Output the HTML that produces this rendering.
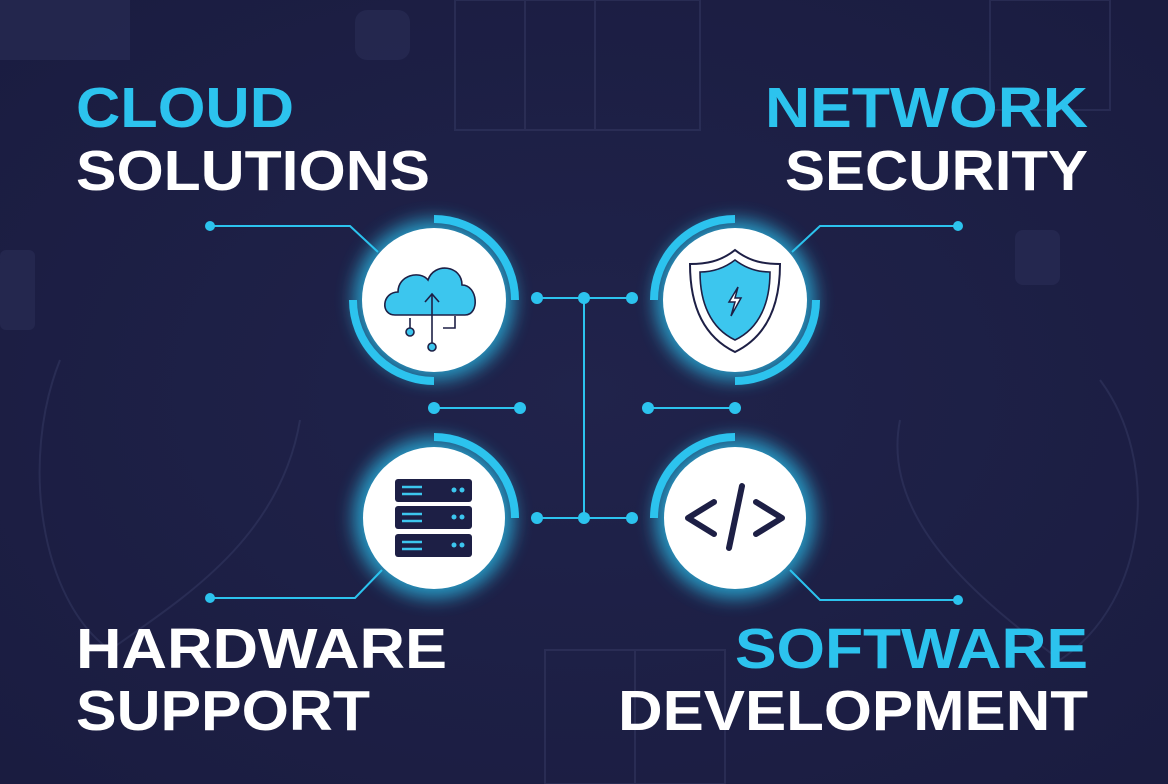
<!DOCTYPE html>
<html><head><meta charset="utf-8"><style>
html,body{margin:0;padding:0;background:#1d1f45;}
svg{display:block}
text{font-family:"Liberation Sans",sans-serif;font-weight:bold}
</style></head><body>
<svg width="1168" height="784" viewBox="0 0 1168 784" xmlns="http://www.w3.org/2000/svg">
<defs>
<radialGradient id="bg" cx="50%" cy="50%" r="70%"><stop offset="0" stop-color="#20234b"/><stop offset="1" stop-color="#1a1c40"/></radialGradient>
<filter id="glow" x="-50%" y="-50%" width="200%" height="200%"><feGaussianBlur stdDeviation="9"/></filter>
</defs>
<rect width="1168" height="784" fill="url(#bg)"/>
<g stroke="#3a3e68" stroke-width="2" fill="none" opacity="0.45">
<rect x="455" y="0" width="140" height="130"/><line x1="525" y1="0" x2="525" y2="130"/>
<path d="M590 0 L700 0 L700 130 L590 130"/>
<rect x="990" y="0" width="120" height="110"/>
<rect x="545" y="650" width="180" height="134"/><line x1="635" y1="650" x2="635" y2="784"/>
<path d="M60 360 C20 460 40 600 110 650 C180 600 280 540 300 420"/>
<path d="M1100 380 C1160 460 1150 600 1060 660 C980 600 880 520 900 420"/>
</g>
<g fill="#2b2f5a" opacity="0.5">
<rect x="0" y="0" width="130" height="60"/><rect x="1015" y="230" width="45" height="55" rx="8"/><rect x="0" y="250" width="35" height="80" rx="6"/><rect x="355" y="10" width="55" height="50" rx="12"/>
</g>
<text x="76" y="127" font-size="57" fill="#2cc3ee" textLength="218" lengthAdjust="spacingAndGlyphs">CLOUD</text>
<text x="76" y="190" font-size="57" fill="#ffffff" textLength="354" lengthAdjust="spacingAndGlyphs">SOLUTIONS</text>
<text x="765" y="127" font-size="57" fill="#2cc3ee" textLength="323" lengthAdjust="spacingAndGlyphs">NETWORK</text>
<text x="785" y="190" font-size="57" fill="#ffffff" textLength="303" lengthAdjust="spacingAndGlyphs">SECURITY</text>
<text x="76" y="668" font-size="57" fill="#ffffff" textLength="371" lengthAdjust="spacingAndGlyphs">HARDWARE</text>
<text x="76" y="730" font-size="57" fill="#ffffff" textLength="294" lengthAdjust="spacingAndGlyphs">SUPPORT</text>
<text x="735" y="668" font-size="57" fill="#2cc3ee" textLength="353" lengthAdjust="spacingAndGlyphs">SOFTWARE</text>
<text x="618" y="730" font-size="57" fill="#ffffff" textLength="470" lengthAdjust="spacingAndGlyphs">DEVELOPMENT</text>
<g stroke="#2cc3ee" stroke-width="2" fill="none">
<polyline points="210,226 350,226 378,252"/>
<polyline points="958,226 820,226 792,252"/>
<polyline points="210,598 355,598 382,570"/>
<polyline points="958,600 820,600 790,570"/>
<line x1="537" y1="298" x2="632" y2="298"/>
<line x1="537" y1="518" x2="632" y2="518"/>
<line x1="584" y1="298" x2="584" y2="518"/>
<line x1="434" y1="408" x2="520" y2="408"/>
<line x1="648" y1="408" x2="735" y2="408"/>
</g>
<g fill="#2cc3ee">
<circle cx="210" cy="226" r="5"/><circle cx="958" cy="226" r="5"/><circle cx="210" cy="598" r="5"/><circle cx="958" cy="600" r="5"/>
<circle cx="537" cy="298" r="6"/><circle cx="584" cy="298" r="6"/><circle cx="632" cy="298" r="6"/>
<circle cx="537" cy="518" r="6"/><circle cx="584" cy="518" r="6"/><circle cx="632" cy="518" r="6"/>
<circle cx="434" cy="408" r="6"/><circle cx="520" cy="408" r="6"/><circle cx="648" cy="408" r="6"/><circle cx="735" cy="408" r="6"/>
</g>
<g fill="#2cc3ee" filter="url(#glow)" opacity="0.75">
<circle cx="434" cy="300" r="80"/><circle cx="735" cy="300" r="80"/><circle cx="434" cy="518" r="80"/><circle cx="735" cy="518" r="80"/>
</g>
<g stroke="#2cc3ee" stroke-width="8" fill="none">
<path d="M434 219 A81 81 0 0 1 515 300"/><path d="M353 300 A81 81 0 0 0 434 381"/>
<path d="M735 219 A81 81 0 0 0 654 300"/><path d="M816 300 A81 81 0 0 1 735 381"/>
<path d="M434 437 A81 81 0 0 1 515 518"/>
<path d="M735 437 A81 81 0 0 0 654 518"/>
</g>
<g fill="#ffffff">
<circle cx="434" cy="300" r="72"/><circle cx="735" cy="300" r="72"/><circle cx="434" cy="518" r="71"/><circle cx="735" cy="518" r="71"/>
</g>
<g stroke="#1d1f45" stroke-width="1.6" fill="#3cc6ee">
<path d="M395 315 C380 315 382 292 398 292 C398 275 420 270 428 280 C434 262 462 265 462 285 C478 285 480 315 465 315 Z"/>
</g>
<g stroke="#1d1f45" stroke-width="1.6" fill="none">
<line x1="432" y1="345" x2="432" y2="295"/><polyline points="425,302 432,294 439,302"/>
<line x1="410" y1="318" x2="410" y2="328"/><circle cx="410" cy="332" r="4" fill="#3cc6ee"/>
<circle cx="432" cy="347" r="4" fill="#3cc6ee"/>
<polyline points="455,316 455,328 443,328"/>
</g>
<path d="M735 250 C750 262 765 264 780 264 C780 300 770 335 735 352 C700 335 690 300 690 264 C705 264 720 262 735 250Z" fill="#fff" stroke="#1d1f45" stroke-width="2"/>
<path d="M735 260 C748 270 760 272 770 272 C770 302 760 328 735 340 C710 328 700 302 700 272 C710 272 722 270 735 260Z" fill="#3cc6ee" stroke="#1d1f45" stroke-width="1.6"/>
<path d="M738 287 L729 302 L735 302 L731 316 L741 298 L735 298 Z" fill="#fff" stroke="#1d1f45" stroke-width="1.5"/>
<g fill="#1d1f45">
<rect x="395" y="479" width="77" height="23" rx="3"/><rect x="395" y="506" width="77" height="23" rx="3"/><rect x="395" y="534" width="77" height="23" rx="3"/>
</g>
<g stroke="#3cc6ee" stroke-width="2.5">
<line x1="402" y1="487" x2="422" y2="487"/><line x1="402" y1="494" x2="422" y2="494"/>
<line x1="402" y1="514" x2="422" y2="514"/><line x1="402" y1="521" x2="422" y2="521"/>
<line x1="402" y1="542" x2="422" y2="542"/><line x1="402" y1="549" x2="422" y2="549"/>
</g>
<g fill="#3cc6ee">
<circle cx="454" cy="490" r="2.5"/><circle cx="462" cy="490" r="2.5"/>
<circle cx="454" cy="517" r="2.5"/><circle cx="462" cy="517" r="2.5"/>
<circle cx="454" cy="545" r="2.5"/><circle cx="462" cy="545" r="2.5"/>
</g>
<g stroke="#1d1f45" stroke-width="6" fill="none" stroke-linecap="round" stroke-linejoin="round">
<polyline points="714,502 688,518 714,534"/><polyline points="756,502 782,518 756,534"/><line x1="742" y1="486" x2="729" y2="548"/>
</g>
</svg>
</body></html>
